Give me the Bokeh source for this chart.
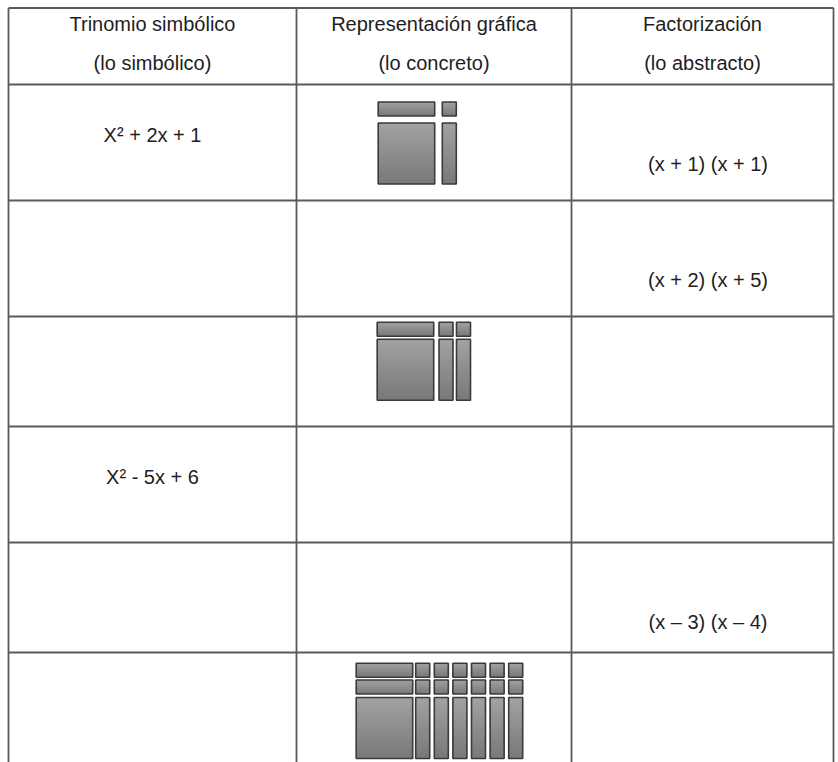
from bokeh.plotting import figure
from bokeh.models import Range1d
from bokeh.core.properties import value
from bokeh.embed import file_html
from bokeh.resources import INLINE

# ---------------- data ----------------
header_line1 = ["Trinomio simbólico", "Representación gráfica", "Factorización"]
header_line2 = ["(lo simbólico)", "(lo concreto)", "(lo abstracto)"]
trinomials = ["X² + 2x + 1", "", "", "X² - 5x + 6", "", ""]
factorizations = ["(x + 1) (x + 1)", "(x + 2) (x + 5)", "", "", "(x – 3) (x – 4)", ""]
# algebra-tile diagrams: (x + a)(x + b) -> 1 x², a horizontal x-bars, b vertical x-bars, a*b units
diagram_rows = [0, 2, 5]
hbar_counts = [1, 1, 2]
vbar_counts = [1, 2, 6]

# ---------------- layout (page pixels) ----------------
col_edges = [8, 296, 571, 833]
row_edges = [7.5, 84, 200, 316, 426, 542, 652]
page_bottom = 762
X_W, X_H, U = 56.5, 61.0, 14.0
diag_layout = [
    dict(left=377.7, top=101.5, gap_v=7.0, gap_h=7.6, pitch_x=17.5, pitch_y=16.8),
    dict(left=376.7, top=321.7, gap_v=3.0, gap_h=5.3, pitch_x=17.5, pitch_y=16.8),
    dict(left=355.7, top=662.7, gap_v=3.5, gap_h=3.0, pitch_x=18.6, pitch_y=16.8),
]
text_offsets = dict(trinomial=50.5, factor=79.0)
factor_x = 707.5

W, H = 838, 762
p = figure(width=W, height=H, x_range=Range1d(0, W), y_range=Range1d(H, 0),
           output_backend="svg", toolbar_location=None, min_border=0)
p.axis.visible = False
p.grid.visible = False
p.outline_line_color = None
p.background_fill_color = "white"
p.border_fill_color = "white"

# ---------------- table lines ----------------
x0s, y0s, x1s, y1s = [], [], [], []
for y in row_edges:
    x0s.append(col_edges[0]); x1s.append(col_edges[-1]); y0s.append(y); y1s.append(y)
for x in col_edges:
    x0s.append(x); x1s.append(x); y0s.append(row_edges[0]); y1s.append(page_bottom)
p.segment(x0=x0s, y0=y0s, x1=x1s, y1=y1s, line_color="#5a5a5a", line_width=1.8)

# ---------------- texts ----------------
col_centers = [(col_edges[i] + col_edges[i + 1]) / 2 for i in range(3)]
font = value("Liberation Sans")
p.text(x=col_centers, y=[23] * 3, text=header_line1, text_font=font, text_font_size="20px",
       text_align="center", text_baseline="middle", text_color="#1e1e1e")
p.text(x=col_centers, y=[62] * 3, text=header_line2, text_font=font, text_font_size="20px",
       text_align="center", text_baseline="middle", text_color="#1e1e1e")

tx, ty, tt = [], [], []
for i, t in enumerate(trinomials):
    if t:
        tx.append(col_centers[0]); ty.append(row_edges[i + 1] + text_offsets["trinomial"]); tt.append(t)
for i, t in enumerate(factorizations):
    if t:
        tx.append(factor_x); ty.append(row_edges[i + 1] + text_offsets["factor"]); tt.append(t)
p.text(x=tx, y=ty, text=tt, text_font=font, text_font_size="20px",
       text_align="center", text_baseline="middle", text_color="#1e1e1e")

# ---------------- algebra tiles ----------------
tiles = []  # (left, top, w, h)
for d, (nh, nv) in enumerate(zip(hbar_counts, vbar_counts)):
    L = diag_layout[d]
    for r in range(nh):
        tiles.append((L["left"], L["top"] + r * L["pitch_y"], X_W, U))
    sq_top = L["top"] + (nh - 1) * L["pitch_y"] + U + L["gap_v"]
    tiles.append((L["left"], sq_top, X_W, X_H))
    bx = L["left"] + X_W + L["gap_h"]
    for c in range(nv):
        tiles.append((bx + c * L["pitch_x"], sq_top, U, X_H))
        for r in range(nh):
            tiles.append((bx + c * L["pitch_x"], L["top"] + r * L["pitch_y"], U, U))

def shade(t):
    a = (0xa0, 0xa0, 0xa0)
    b = (0x7a, 0x7a, 0x7a)
    c = [int(round(a[k] + (b[k] - a[k]) * t)) for k in range(3)]
    return "#%02x%02x%02x" % tuple(c)

# vertical gradient: each band runs from its start to the tile bottom (no seams)
NB = 12
bl, br, bt, bb, bc = [], [], [], [], []
for (l, t, w, h) in tiles:
    for k in range(NB):
        bl.append(l); br.append(l + w)
        bt.append(t + h * k / NB); bb.append(t + h)
        bc.append(shade(k / (NB - 1)))
p.quad(left=bl, right=br, top=bt, bottom=bb, fill_color=bc, line_color=None)
p.quad(left=[t[0] for t in tiles], right=[t[0] + t[2] for t in tiles],
       top=[t[1] for t in tiles], bottom=[t[1] + t[3] for t in tiles],
       fill_color=None, line_color="#3a3a3a", line_width=1.6)

open("out.html", "w").write(file_html(p, INLINE))
